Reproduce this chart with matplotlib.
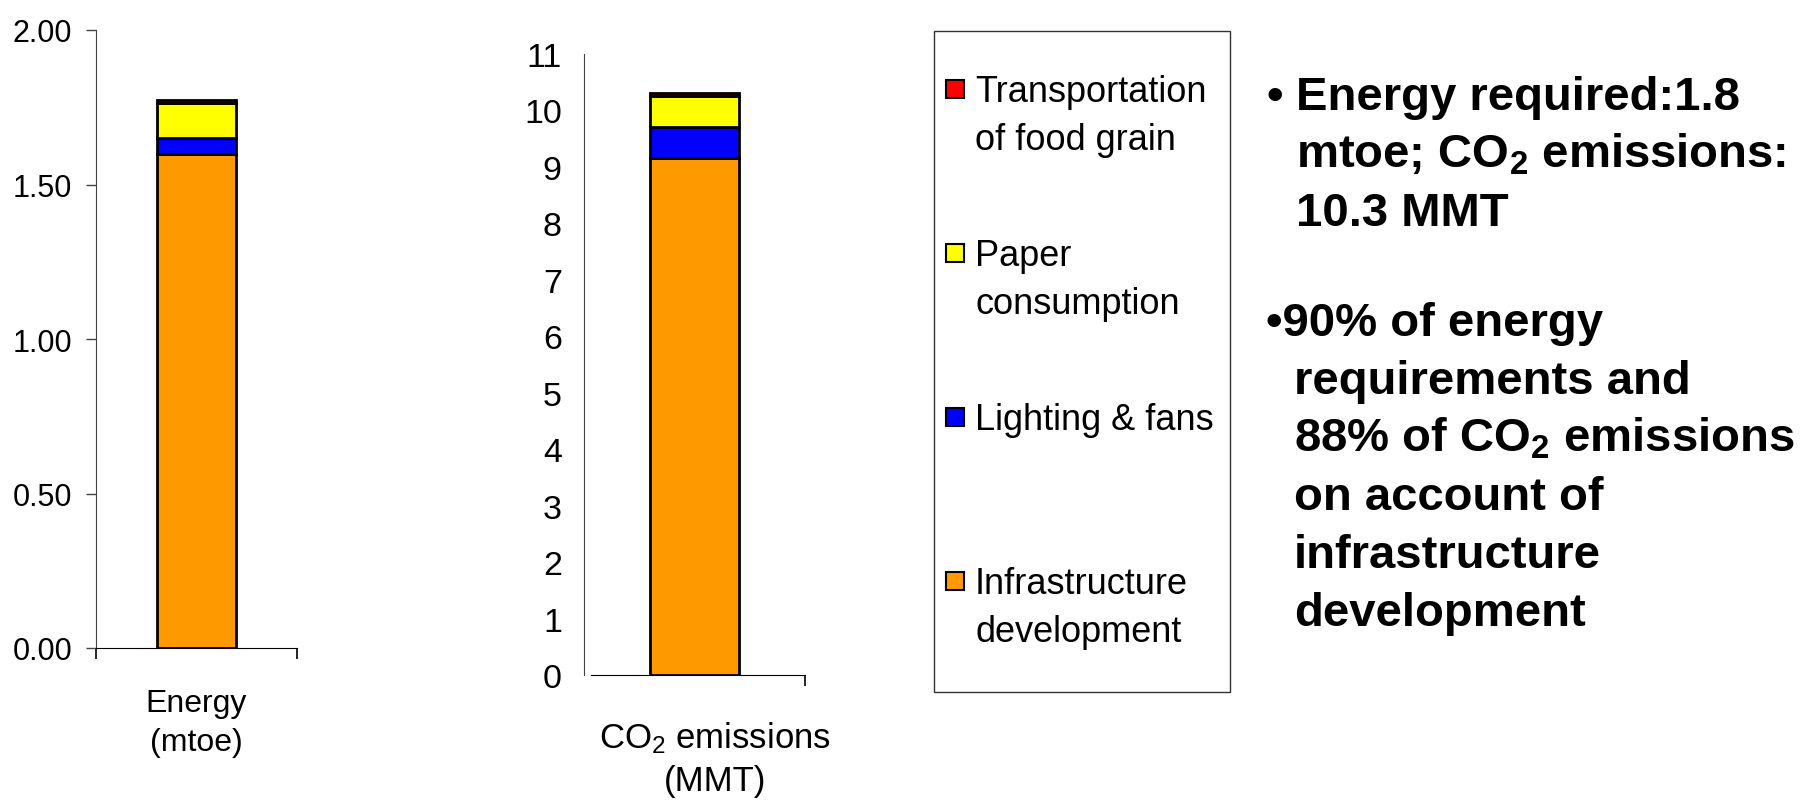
import numpy as np
import matplotlib.pyplot as plt
from matplotlib.patches import Rectangle

plt.rcParams['font.family'] = ['Liberation Sans', 'DejaVu Sans']
plt.rcParams['mathtext.fontset'] = 'custom'
plt.rcParams['mathtext.rm'] = 'Liberation Sans'
plt.rcParams['mathtext.it'] = 'Liberation Sans:italic'
plt.rcParams['mathtext.bf'] = 'Liberation Sans:bold'

# stacked components, bottom to top
components = ['Infrastructure\ndevelopment', 'Lighting & fans',
              'Paper\nconsumption', 'Transportation\nof food grain']
colors = ['#FF9900', '#0000FF', '#FFFF00', '#FF0000']
energy_mtoe = [1.60, 0.05, 0.115, 0.008]
co2_mmt = [9.15, 0.56, 0.55, 0.05]

energy_label = 'Energy\n(mtoe)'
co2_label = 'CO$_2$ emissions\n(MMT)'
energy_ticks = [0.0, 0.5, 1.0, 1.5, 2.0]
co2_ticks = list(range(0, 12))

bullet_1 = ['Energy required:1.8', r'mtoe; CO$_\mathbf{2}$ emissions:', '10.3 MMT']
bullet_2 = ['90% of energy', 'requirements and',
            r'88% of CO$_\mathbf{2}$ emissions', 'on account of',
            'infrastructure', 'development']

W, H = 1819, 804
fig = plt.figure(figsize=(W / 100, H / 100), dpi=100)


def px(x, y):
    # pixel position measured from the top-left corner -> figure fraction
    return x / W, 1 - y / H


def axes_box(x0, x1, y_top, y_bot):
    return [x0 / W, 1 - y_bot / H, (x1 - x0) / W, (y_bot - y_top) / H]


def stacked_bar(ax, values, width):
    bottom = 0
    for v, c in zip(values, colors):
        ax.bar(0, v, width, bottom=bottom, color=c, edgecolor='black',
               linewidth=2.0, zorder=3)
        bottom += v


axis_col = '#444444'

# Energy panel
ax1 = fig.add_axes(axes_box(96, 297, 31, 649))
stacked_bar(ax1, energy_mtoe, 0.393)
ax1.set_xlim(-0.5, 0.5)
ax1.set_ylim(0, 2.0)
ax1.set_yticks(energy_ticks)
ax1.set_yticklabels(['%.2f' % t for t in energy_ticks], fontsize=22)
ax1.set_xticks([-0.5, 0.5])
ax1.set_xticklabels([])
ax1.tick_params(axis='y', direction='out', length=7, width=1, color=axis_col, pad=10)
ax1.tick_params(axis='x', direction='out', length=8, width=1.2, color='black')
for s in ['top', 'right']:
    ax1.spines[s].set_visible(False)
ax1.spines['left'].set_color(axis_col)
ax1.spines['bottom'].set_color('black')
ax1.annotate(energy_label, xy=(0.5, 0), xycoords='axes fraction',
             xytext=(0, -40), textcoords='offset pixels', ha='center', va='top',
             fontsize=23, linespacing=1.4)

# CO2 panel
ax2 = fig.add_axes(axes_box(584, 805, 55, 676))
stacked_bar(ax2, co2_mmt, 0.4)
ax2.set_xlim(-0.5, 0.5)
ax2.set_ylim(0, 11)
ax2.set_yticks(co2_ticks)
ax2.set_yticklabels([str(t) for t in co2_ticks], fontsize=24.5)
ax2.set_xticks([0.5])
ax2.set_xticklabels([])
ax2.tick_params(axis='y', length=0, pad=16)
ax2.tick_params(axis='x', direction='out', length=8, width=1.2, color='black')
for s in ['top', 'right']:
    ax2.spines[s].set_visible(False)
ax2.spines['left'].set_color(axis_col)
ax2.spines['bottom'].set_color('black')
ax2.spines['bottom'].set_bounds(-0.468, 0.5)
ax2.annotate(co2_label, xy=(0.593, 0), xycoords='axes fraction',
             xytext=(0, -44), textcoords='offset pixels', ha='center', va='top',
             fontsize=25, linespacing=1.35)

# legend box drawn from the component lists, top entry first
fig.add_artist(Rectangle(px(934, 693), 296 / W, 661 / H, transform=fig.transFigure,
                         fill=False, edgecolor='#333333', linewidth=1))
for i, (name, c) in enumerate(zip(components[::-1], colors[::-1])):
    base = 102 + 164 * i
    fig.add_artist(Rectangle(px(946, base - 3.5), 18 / W, 18 / H,
                             transform=fig.transFigure, facecolor=c,
                             edgecolor='black', linewidth=1.5))
    for j, line in enumerate(name.split('\n')):
        fig.text(*px(975, base + 48 * j), line, fontsize=26, va='baseline', ha='left')

# bullet notes
fig.text(*px(1266, 110), '\u2022', fontsize=34, fontweight='bold', va='baseline')
for j, line in enumerate(bullet_1):
    fig.text(*px(1296, 110 + 58 * j), line, fontsize=34, fontweight='bold', va='baseline')
for j, line in enumerate(bullet_2):
    x = 1266 if j == 0 else 1294
    txt = '\u2022' + line if j == 0 else line
    fig.text(*px(x, 336 + 58 * j), txt, fontsize=34, fontweight='bold', va='baseline')

fig.savefig('out.png', dpi=100)
